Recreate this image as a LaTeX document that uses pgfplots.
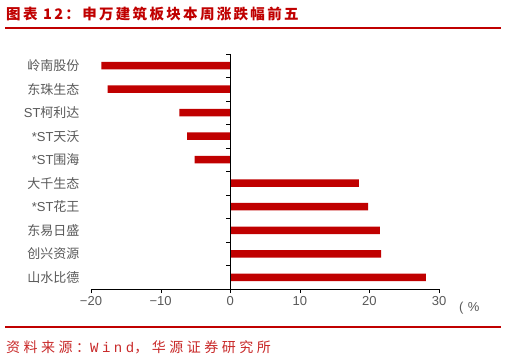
\documentclass[border=0pt]{standalone}
\usepackage{fontspec}
\setmainfont{Liberation Sans}
\newfontfamily\cjk{Noto Sans CJK SC}
\newfontfamily\cjktitle[LetterSpace=16]{Noto Sans CJK SC}
\newfontfamily\cjksrc[LetterSpace=25]{Noto Sans CJK SC}
\newfontfamily\monosrc[LetterSpace=25]{Liberation Mono}
\usepackage{pgfplots}
\usepackage{pgfplotstable}
\pgfplotsset{compat=1.18}

\definecolor{hyred}{RGB}{192,0,0}
\definecolor{srcred}{RGB}{200,40,40}
\definecolor{lbl}{RGB}{89,89,89}

% 本周涨跌幅（%），自上而下
\pgfplotstableread{
idx value
0 -18.5
1 -17.6
2 -7.3
3 -6.2
4 -5.1
5 18.5
6 19.8
7 21.5
8 21.7
9 28.1
}\weekdata

\begin{document}
\begin{tikzpicture}
\useasboundingbox (0,0) rectangle (506pt,361pt);

% 标题与分隔线
\node[anchor=west, text=hyred, inner sep=0pt] at (6pt,347pt)
  {\cjktitle\bfseries\fontsize{14.5}{16}\selectfont 图表 12：申万建筑板块本周涨跌幅前五};
\draw[hyred, line width=1.2pt] (5pt,333pt) -- (501pt,333pt);
\draw[hyred, line width=1.2pt] (5pt,34pt) -- (501pt,34pt);
\node[anchor=west, text=srcred, inner sep=0pt] at (6pt,14pt)
  {\fontsize{14}{16}\selectfont\cjksrc 资料来源：\monosrc Wind\cjksrc ，华源证券研究所};

\begin{axis}[
  at={(91pt,72pt)}, anchor=south west,
  width=348pt, height=235pt, scale only axis,
  xmin=-20, xmax=30, ymin=-0.5, ymax=9.5,
  y dir=reverse,
  xbar, bar width=7.5pt,
  axis x line*=bottom,
  axis y line*=left,
  y axis line style={draw=none},
  ytick={0,...,9},
  yticklabels={{\cjk 岭南股份},{\cjk 东珠生态},{ST\cjk 柯利达},{*ST\cjk 天沃},{*ST\cjk 围海},
               {\cjk 大千生态},{*ST\cjk 花王},{\cjk 东易日盛},{\cjk 创兴资源},{\cjk 山水比德}},
  ytick style={draw=none},
  yticklabel style={font=\fontsize{13}{15}\selectfont, text=lbl, xshift=-4pt},
  xtick={-20,-10,0,10,20,30},
  xticklabels={−20,−10,0,10,20,30},
  tick align=outside,
  major tick length=4pt,
  xtick style={black},
  xticklabel style={font=\fontsize{13}{15}\selectfont, text=lbl},
  axis line style={black},
  clip=false,
]
\addplot[fill=hyred, draw=none] table[x=value, y=idx]{\weekdata};
% 零值处的纵轴及类别分隔刻度（向左）
\draw[black] (axis cs:0,-0.5) -- (axis cs:0,9.5);
\pgfplotsinvokeforeach{-0.5,0.5,1.5,2.5,3.5,4.5,5.5,6.5,7.5,8.5}{
  \draw[black] (axis cs:0,#1) -- ([xshift=-4pt]axis cs:0,#1);
}
\end{axis}

\node[anchor=base west, text=lbl, inner sep=0pt] at (459pt,49pt)
  {\fontsize{13}{15}\selectfont (\,\,\%};
\end{tikzpicture}
\end{document}
